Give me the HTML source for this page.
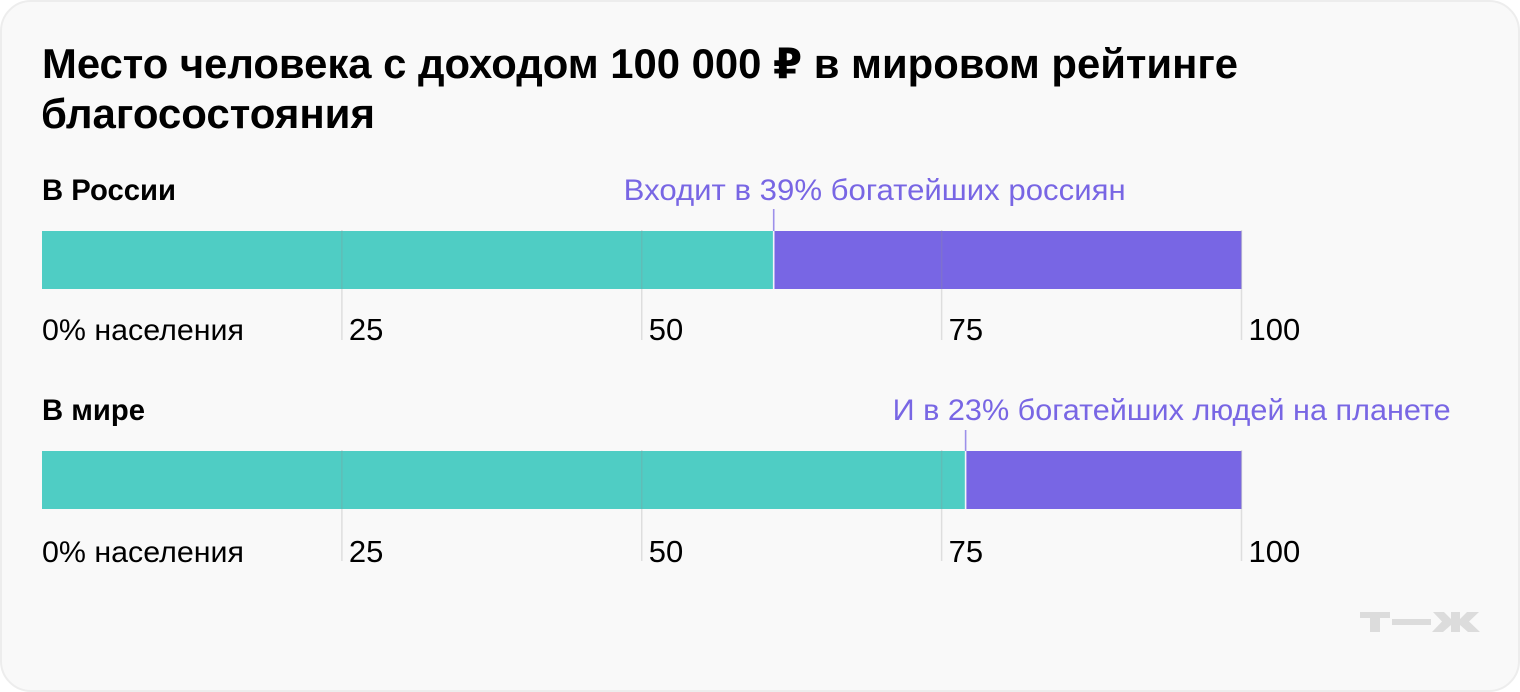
<!DOCTYPE html>
<html lang="ru">
<head>
<meta charset="utf-8">
<title>Место человека с доходом 100 000 ₽ в мировом рейтинге благосостояния</title>
<style>
html,body{margin:0;padding:0;background:#fff;}
body{width:1520px;height:692px;overflow:hidden;}
svg{display:block;font-family:"Liberation Sans","DejaVu Sans",sans-serif;}
</style>
</head>
<body>
<svg id="chart" xmlns="http://www.w3.org/2000/svg" width="1520" height="692" viewBox="0 0 1520 692">
  <rect x="1" y="1" width="1518" height="690" rx="30" ry="30" fill="#f9f9f9" stroke="#ededed" stroke-width="2"/>
  <text x="42" y="78" font-size="42" font-weight="700" fill="#000" textLength="1196" lengthAdjust="spacingAndGlyphs">Место человека с доходом 100 000 ₽ в мировом рейтинге</text>
  <text x="41" y="128" font-size="42" font-weight="700" fill="#000" textLength="334" lengthAdjust="spacingAndGlyphs">благосостояния</text>
  <g id="rows"></g>
  <g fill="#dcdcdc">
    <path d="M1360 612H1390V618H1380V632H1370V618H1360Z"/>
    <rect x="1392" y="619" width="39" height="6"/>
    <path d="M1433 612H1444L1451 619V612H1460V619L1467 612H1479L1469 621.500L1480 632H1468L1460 625V632H1451V625L1443 632H1432L1442 621.500Z"/>
  </g>
</svg>
<script>
var rowTitles = ['В России', 'В мире'];
var topShares = [39, 23];
var calloutLabels = ['Входит в 39% богатейших россиян', 'И в 23% богатейших людей на планете'];
var tickValues = [25, 50, 75, 100];
var tickLabels = ['25', '50', '75', '100'];
var firstTickLabel = '0% населения';

var svgNS = 'http://www.w3.org/2000/svg';
var rowsGroup = document.getElementById('rows');
var X0 = 42, X1 = 1241.5;
var TEAL = '#4fcdc4', PURPLE = '#7866e4';
var rowLayout = [
  { titleY: 200, calloutY: 200, markerTop: 209, barY: 231, tickTop: 230, tickBottom: 340, labelY: 340, titleW: 134, calloutDx: -150, calloutW: 502 },
  { titleY: 420, calloutY: 420, markerTop: 430, barY: 451, tickTop: 450, tickBottom: 561, labelY: 562, titleW: 103, calloutDx: -73, calloutW: 558 }
];
var BAR_H = 58;

function xScale(v) { return X0 + (X1 - X0) * v / 100; }

function svgEl(tag, attrs, parent) {
  var el = document.createElementNS(svgNS, tag);
  for (var k in attrs) { el.setAttribute(k, attrs[k]); }
  parent.appendChild(el);
  return el;
}

topShares.forEach(function (share, i) {
  var L = rowLayout[i];
  var boundary = xScale(100 - share);
  var g = svgEl('g', {}, rowsGroup);
  
  

  var title = svgEl('text', { x: 42, y: L.titleY, 'font-size': 30, 'font-weight': 700, fill: '#000', textLength: L.titleW, lengthAdjust: 'spacingAndGlyphs' }, g);
  
  
  title.textContent = rowTitles[i];

  var rest = svgEl('rect', { x: boundary, y: L.barY, width: xScale(100) - boundary, height: BAR_H, fill: PURPLE }, g);
  
  

  var base = svgEl('rect', { x: X0, y: L.barY, width: boundary - X0, height: BAR_H, fill: TEAL }, g);
  
  

  var marker = svgEl('line', { x1: boundary, x2: boundary, y1: L.markerTop, y2: L.barY, stroke: '#9d90ea', 'stroke-width': 1.6 }, g);
  
  

  var callout = svgEl('text', { x: boundary + L.calloutDx, y: L.calloutY, 'font-size': 30, fill: PURPLE, textLength: L.calloutW, lengthAdjust: 'spacingAndGlyphs' }, g);
  
  
  callout.textContent = calloutLabels[i];

  var zero = svgEl('text', { x: 42, y: L.labelY, 'font-size': 30, fill: '#000', textLength: 202, lengthAdjust: 'spacingAndGlyphs' }, g);
  
  
  zero.textContent = firstTickLabel;

  tickValues.forEach(function (v, t) {
    var x = xScale(v);
    var tick = svgEl('line', { x1: x, x2: x, y1: L.tickTop, y2: L.tickBottom, stroke: '#909090', 'stroke-opacity': 0.25, 'stroke-width': 1.5 }, g);
    
    

    var label = svgEl('text', { x: x + 7, y: L.labelY, 'font-size': 31, fill: '#000' }, g);
    
    
    label.textContent = tickLabels[t];
  });

  var divider = svgEl('line', { x1: boundary, x2: boundary, y1: L.barY, y2: L.barY + BAR_H, stroke: '#f4f4fb', 'stroke-width': 1.6 }, g);
  
  
});
</script>
</body>
</html>
